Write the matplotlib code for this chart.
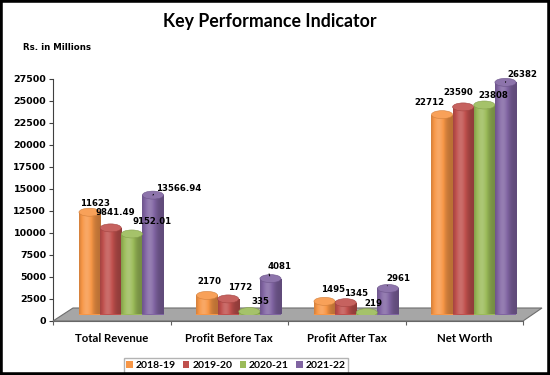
import matplotlib
matplotlib.use('Agg')
import matplotlib.pyplot as plt
import numpy as np
from matplotlib.patches import Ellipse, Polygon, Rectangle, Patch
import matplotlib.colors as mcolors

# ---------------- data ----------------
categories = ['Total Revenue', 'Profit Before Tax', 'Profit After Tax', 'Net Worth']
years = ['2018-19', '2019-20', '2020-21', '2021-22']
v_2018_19 = [11623, 2170, 1495, 22712]
v_2019_20 = [9841.49, 1772, 1345, 23590]
v_2020_21 = [9152.01, 335, 219, 23808]
v_2021_22 = [13566.94, 4081, 2961, 26382]
yticks = [0, 2500, 5000, 7500, 10000, 12500, 15000, 17500, 20000, 22500, 25000, 27500]

series = [v_2018_19, v_2019_20, v_2020_21, v_2021_22]
colors = ['#F79646', '#C0504D', '#9BBB59', '#8064A2']

# label offsets in pixels (dx, dy), style only
label_offsets = [
    [(6, 9), (2, 14), (9, 12), (-13, 12)],
    [(5, 15), (12, 11), (10, 9), (-5, 14)],
    [(20, 12), (11, 10), (7, 9), (9, 9)],
    [(26, 7), (9, 12), (10, 10), (17, 8)],
]

W, H, DPI = 550, 375, 100
fig = plt.figure(figsize=(W / DPI, H / DPI), dpi=DPI)
fig.patch.set_facecolor('white')

def fx(px):
    return px / W

def fy(py):
    return 1 - py / H

# main axes (axis lines / ticks)
x0, x1, ybot, ytop = 53, 523, 321, 79
ax = fig.add_axes([fx(x0), fy(ybot), (x1 - x0) / W, (ybot - ytop) / H], zorder=0)
ax.set_xlim(-0.5, len(categories) - 0.5)
ax.set_ylim(0, 27500)
ax.set_yticks(yticks)
ax.set_yticklabels([str(t) for t in yticks], fontsize=6.8, fontweight='bold',
                   family='DejaVu Sans')
ax.set_xticks(range(len(categories)))
ax.set_xticklabels(categories, fontsize=8.2, fontweight='bold', family='Lato')
ax.tick_params(axis='x', length=0, pad=9)
ax.set_xticks(np.arange(-0.5, len(categories), 1.0), minor=True)
ax.tick_params(axis='x', which='minor', length=3, color='#606060', width=0.8)
ax.tick_params(axis='y', length=3, color='#404040', width=0.8, pad=2)
for s in ['top', 'right']:
    ax.spines[s].set_visible(False)
ax.spines['left'].set_color('#404040')
ax.spines['bottom'].set_color('#606060')
ax.patch.set_alpha(0)

# floor (3D base)
floor = Polygon([(fx(53), fy(321)), (fx(523), fy(321)), (fx(542), fy(308)), (fx(73), fy(308))],
                closed=True, transform=fig.transFigure, facecolor='#A6A6A6',
                edgecolor='#6E6E6E', lw=0.8, zorder=1)
fig.add_artist(floor)

# bars axes, shifted by half depth
dx, dy = 9.5, 6.5
ax2 = fig.add_axes([fx(x0 + dx), fy(ybot - dy), (x1 - x0) / W, (ybot - ytop) / H], zorder=2)
ax2.set_xlim(-0.5, len(categories) - 0.5)
ax2.set_ylim(0, 27500)
ax2.axis('off')
ax2.patch.set_alpha(0)

bw = 0.18
ell_px = 8.0
ell_h = ell_px * 27500 / (ybot - ytop)

def shade(c, f):
    rgb = np.array(mcolors.to_rgb(c))
    if f >= 1:
        return rgb + (1 - rgb) * (f - 1)
    return rgb * f

N = 64
t = np.linspace(0, 1, N)
prof = 0.75 + 0.42 * np.exp(-((t - 0.35) / 0.3) ** 2)

xs = np.arange(len(categories))
for j, (vals, c) in enumerate(zip(series, colors)):
    bars = ax2.bar(xs + (j - 1.5) * bw, vals, bw, color=c, zorder=2, linewidth=0)
    grad = np.array([shade(c, f) for f in prof])
    grad = np.clip(grad, 0, 1)[np.newaxis, :, :]
    for i, b in enumerate(bars):
        bx, bwid, bh = b.get_x(), b.get_width(), b.get_height()
        cx = bx + bwid / 2
        # bottom ellipse
        ax2.add_patch(Ellipse((cx, 0), bwid, ell_h, facecolor=shade(c, 0.8),
                              edgecolor='none', zorder=1.9))
        im = ax2.imshow(grad, extent=(bx, bx + bwid, 0, bh), aspect='auto', zorder=2.1,
                        interpolation='bilinear')
        im.set_clip_path(b)
        # top ellipse
        ax2.add_patch(Ellipse((cx, bh), bwid, ell_h, facecolor=np.clip(shade(c, 1.1), 0, 1),
                              edgecolor=shade(c, 0.85), lw=0.4, zorder=2.2))
        ox, oy = label_offsets[j][i]
        kw = dict(xy=(cx, bh), xytext=(ox, oy), textcoords='offset pixels',
                  ha='center', va='center', fontsize=6.2, fontweight='bold',
                  family='DejaVu Sans', zorder=5)
        if j == 3:
            kw['arrowprops'] = dict(arrowstyle='-', lw=0.7, color='black',
                                    relpos=(0, 0.3), shrinkA=0, shrinkB=2)
        ax2.annotate(str(vals[i]), **kw)
ax2.set_xlim(-0.5, len(categories) - 0.5)
ax2.set_ylim(0, 27500)

# titles
fig.text(0.49, fy(22), 'Key Performance Indicator', ha='center', va='center',
         fontsize=12.8, fontweight='bold', family='Lato')
fig.text(fx(23), fy(47), 'Rs. in Millions', ha='left', va='center',
         fontsize=6.2, fontweight='bold', family='DejaVu Sans')

# legend
handles = [Patch(facecolor=c, edgecolor='none') for c in colors]
fig.legend(handles, years, loc='center', bbox_to_anchor=(fx(236), fy(365.5)), ncol=4,
           frameon=True, fancybox=False, edgecolor='#A0A0A0',
           prop={'family': 'Lato', 'weight': 'bold', 'size': 7.5},
           handlelength=0.6, handleheight=0.6, columnspacing=0.7, handletextpad=0.3,
           borderpad=0.25)

# border
fig.add_artist(Rectangle((0, 0), 1, 1, transform=fig.transFigure, fill=False,
                         edgecolor='black', lw=4, zorder=10))

fig.savefig('out.png', dpi=DPI)
